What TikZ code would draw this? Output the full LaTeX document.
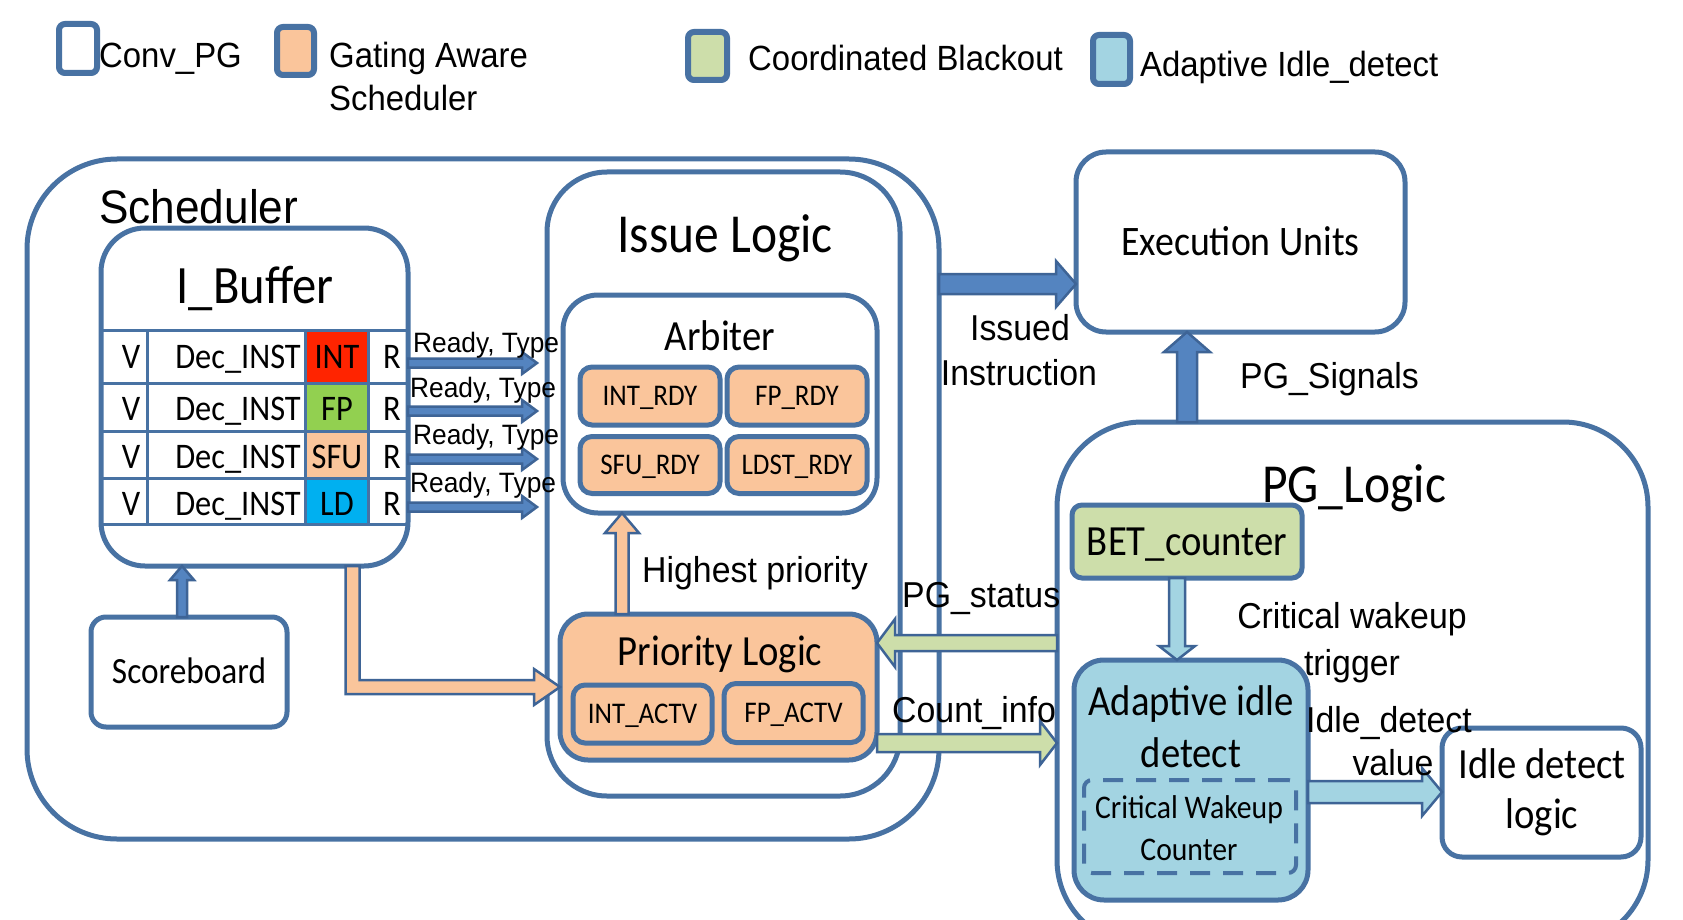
\documentclass[tikz,border=0pt]{standalone}
\usepackage{fontspec}
\newfontfamily\calf[FakeStretch=0.9]{Carlito}
\newfontfamily\arif[FakeStretch=0.94]{Liberation Sans}
\usetikzlibrary{calc}
\definecolor{bord}{RGB}{72,114,163}
\definecolor{abord}{RGB}{62,100,150}
\definecolor{bluef}{RGB}{84,132,192}
\definecolor{peach}{RGB}{250,197,155}
\definecolor{greenf}{RGB}{205,222,170}
\definecolor{lblue}{RGB}{163,212,226}
\definecolor{intred}{RGB}{255,36,0}
\definecolor{fpgreen}{RGB}{146,208,80}
\definecolor{ldblue}{RGB}{0,176,240}
\begin{document}
\begin{tikzpicture}[x=1pt,y=-1pt,
  bx/.style={draw=bord, line width=5pt, rounded corners=#1, inner sep=0pt, outer sep=0pt},
  bx/.default=12pt,
  cf/.style 2 args={font=\calf\fontsize{#1}{#2}\selectfont, inner sep=0pt},
  af/.style 2 args={font=\arif\fontsize{#1}{#2}\selectfont, inner sep=0pt},
  ctext/.style={text height=#1, text depth=0pt},
  cellfill/.style={inner sep=0pt, outer sep=0pt, draw=none},
  tbl/.style={draw=bord, line width=3pt},
  blk/.style={draw=abord, line width=2.5pt, fill=#1, line join=miter},
  barR/.style n args={3}{to path={let \p1=(\tikztostart), \p2=(\tikztotarget) in
    ({\x1},{\y1+#1}) -- ({\x2-#3},{\y1+#1}) -- ({\x2-#3},{\y1+#2}) -- (\x2,\y1) -- ({\x2-#3},{\y1-#2}) -- ({\x2-#3},{\y1-#1}) -- ({\x1},{\y1-#1}) -- cycle}},
  barL/.style n args={3}{to path={let \p1=(\tikztostart), \p2=(\tikztotarget) in
    ({\x1},{\y1+#1}) -- ({\x2+#3},{\y1+#1}) -- ({\x2+#3},{\y1+#2}) -- (\x2,\y1) -- ({\x2+#3},{\y1-#2}) -- ({\x2+#3},{\y1-#1}) -- ({\x1},{\y1-#1}) -- cycle}},
  barU/.style n args={3}{to path={let \p1=(\tikztostart), \p2=(\tikztotarget) in
    ({\x1+#1},{\y1}) -- ({\x1+#1},{\y2-#3}) -- ({\x1+#2},{\y2-#3}) -- (\x1,\y2) -- ({\x1-#2},{\y2-#3}) -- ({\x1-#1},{\y2-#3}) -- ({\x1-#1},{\y1}) -- cycle}},
  barD/.style n args={3}{to path={let \p1=(\tikztostart), \p2=(\tikztotarget) in
    ({\x1+#1},{\y1}) -- ({\x1+#1},{\y2+#3}) -- ({\x1+#2},{\y2+#3}) -- (\x1,\y2) -- ({\x1-#2},{\y2+#3}) -- ({\x1-#1},{\y2+#3}) -- ({\x1-#1},{\y1}) -- cycle}}
]
\useasboundingbox[fill=white] (0,0) rectangle (1683,920);

% ---------- legend ----------
\node[bx=6pt, line width=6pt, minimum width=38pt, minimum height=49pt] (lconv) at (78,48.5) {};
\node[af={35}{42}, anchor=base west] (tconv) at (99,68) {Conv\_PG};
\node[bx=6pt, line width=6pt, fill=peach, minimum width=37pt, minimum height=48pt] (lgas) at (295.5,51) {};
\node[af={35}{42}, anchor=base west] (tgas1) at (329,68) {Gating Aware};
\node[af={35}{42}, anchor=base west] (tgas2) at (329,111) {Scheduler};
\node[bx=6pt, line width=6pt, fill=greenf, minimum width=39pt, minimum height=48pt] (lcb) at (707.5,56) {};
\node[af={35}{42}, anchor=base west] (tcb) at (748,71) {Coordinated Blackout};
\node[bx=6pt, line width=6pt, fill=lblue, minimum width=37pt, minimum height=49pt] (laid) at (1111.5,59.5) {};
\node[af={35}{42}, anchor=base west] (taid) at (1140,77) {Adaptive Idle\_detect};

% ---------- containers ----------
\node[bx=90pt, minimum width=912pt, minimum height=680pt] (sched) at (483,499) {};
\node[af={47}{56}, anchor=base west] (tsched) at (99,223) {Scheduler};
\node[bx=60pt, minimum width=353pt, minimum height=624pt] (issue) at (723.5,484) {};
\node[cf={55}{62}, anchor=base] (tissue) at (725,252) {Issue Logic};

% I_Buffer
\node[bx=44pt, minimum width=307pt, minimum height=338pt] (ibuf) at (254.5,397) {};
\node[cf={54}{60}, anchor=base] (tibuf) at (255,303) {I\_Buffer};
\node[cellfill, fill=intred, minimum width=62pt, minimum height=50pt] (cint) at (336.5,356.5) {};
\node[cellfill, fill=fpgreen, minimum width=62pt, minimum height=48pt] (cfp) at (336.5,407) {};
\node[cellfill, fill=peach, minimum width=62pt, minimum height=47pt] (csfu) at (336.5,454.5) {};
\node[cellfill, fill=ldblue, minimum width=62pt, minimum height=46pt] (cld) at (336.5,501) {};
\draw[tbl] (101,330) -- (408,330);
\draw[tbl] (101,383) -- (408,383);
\draw[tbl] (101,431) -- (408,431);
\draw[tbl] (101,478) -- (408,478);
\draw[tbl] (101,524) -- (408,524);
\draw[tbl] (147,330) -- (147,524);
\draw[tbl] (305,330) -- (305,524);
\draw[tbl] (368,330) -- (368,524);
\foreach \r/\yb/\lab in {1/368/INT,2/420/FP,3/468/SFU,4/515/LD}{
  \node[cf={36}{42}, anchor=base] (v\r) at (131,\yb) {V};
  \node[cf={36}{42}, anchor=base] (d\r) at (238,\yb) {Dec\_INST};
  \node[cf={36}{42}, anchor=base] (t\r) at (337,\yb) {\lab};
  \node[cf={36}{42}, anchor=base] (r\r) at (392,\yb) {R};
}

% Arbiter
\node[bx=35pt, minimum width=314pt, minimum height=218pt] (arb) at (720,404) {};
\node[cf={43}{50}, anchor=base] (tarb) at (720,350) {Arbiter};
\node[bx=12pt, fill=peach, minimum width=140pt, minimum height=58pt, cf={30}{36}, ctext=19.3pt] (intrdy) at (650,396) {INT\_RDY};
\node[bx=12pt, fill=peach, minimum width=140pt, minimum height=58pt, cf={30}{36}, ctext=19.3pt] (fprdy) at (797,396) {FP\_RDY};
\node[bx=12pt, fill=peach, minimum width=140pt, minimum height=57pt, cf={30}{36}, ctext=19.3pt] (sfurdy) at (650,465) {SFU\_RDY};
\node[bx=12pt, fill=peach, minimum width=140pt, minimum height=57pt, cf={30}{36}, ctext=19.3pt] (ldstrdy) at (797,465) {LDST\_RDY};

% Priority logic
\node[bx=28pt, fill=peach, minimum width=317pt, minimum height=146pt] (prio) at (718.5,687) {};
\node[cf={43}{50}, anchor=base] (tprio) at (720,665) {Priority Logic};
\node[bx=12pt, fill=peach, minimum width=139pt, minimum height=58pt, cf={30}{36}, ctext=19.3pt] (intactv) at (642.5,714) {INT\_ACTV};
\node[bx=12pt, fill=peach, minimum width=139pt, minimum height=59pt, cf={30}{36}, ctext=19.3pt] (fpactv) at (793.5,713) {FP\_ACTV};

% Scoreboard
\node[bx=15pt, minimum width=196pt, minimum height=110pt, cf={37}{44}, ctext=23.8pt] (score) at (189,672) {Scoreboard};

% Execution units
\node[bx=30pt, minimum width=329pt, minimum height=180pt, cf={42}{50}, ctext=27pt] (exec) at (1240.5,242) {Execution Units};

% PG logic
\node[bx=85pt, minimum width=591pt, minimum height=523pt] (pgl) at (1352.5,683.5) {};
\node[cf={55}{62}, anchor=base] (tpgl) at (1354,502) {PG\_Logic};
\node[bx=10pt, fill=greenf, minimum width=230pt, minimum height=73pt, cf={43}{50}, ctext=27.7pt] (bet) at (1187,541.5) {BET\_counter};
\node[bx=30pt, fill=lblue, minimum width=234pt, minimum height=240pt] (adapt) at (1191,780) {};
\node[cf={43}{50}, anchor=base] (tad1) at (1191,715) {Adaptive idle};
\node[cf={43}{50}, anchor=base] (tad2) at (1191,767) {detect};
\node[bx=8pt, line width=4pt, dash pattern=on 20pt off 13pt, minimum width=212pt, minimum height=93pt] (cwc) at (1190,826.5) {};
\node[cf={33}{40}, anchor=base] (tcw1) at (1189,818) {Critical Wakeup};
\node[cf={33}{40}, anchor=base] (tcw2) at (1189,860) {Counter};
\node[bx=20pt, minimum width=199pt, minimum height=129pt] (idle) at (1541.5,792.5) {};
\node[cf={43}{50}, anchor=base] (tid1) at (1542,778) {Idle detect};
\node[cf={43}{50}, anchor=base] (tid2) at (1542,828) {logic};

% ---------- connector end points ----------
\coordinate (ra1) at (537,363);
\coordinate (ra2) at (537,411);
\coordinate (ra3) at (537,459);
\coordinate (ra4) at (537,507);
\coordinate (isT) at ([yshift=-42pt]exec.west);
\coordinate (pgsT) at ([xshift=-53.5pt]exec.south);
\coordinate (psT) at ([yshift=44pt]prio.east);
\coordinate (ciS) at ([yshift=-56pt]prio.east);
\coordinate (baS) at ([xshift=-10pt]bet.south);
\coordinate (aiS) at ([yshift=-12pt]adapt.east);
\coordinate (scS) at ([xshift=-7pt]score.north);
\coordinate (hpS) at ([xshift=-96.5pt]prio.north);

% ---------- arrows ----------
\foreach \i in {1,2,3,4}{
  \draw[blk=bluef, barR={4.5pt}{11pt}{15pt}] (ibuf.east |- ra\i) to (ra\i);
}
\draw[blk=bluef, barU={5pt}{12pt}{14pt}] (scS) to (scS |- ibuf.south);
\draw[blk=peach] let \p1=([xshift=98pt]ibuf.south), \p2=(prio.west) in
  ({\x1-7pt},{\y1}) -- ({\x1-7pt},{\y2-7pt}) -- ({\x2-26pt},{\y2-7pt}) -- ({\x2-26pt},{\y2-18pt}) -- (\x2,\y2)
  -- ({\x2-26pt},{\y2+18pt}) -- ({\x2-26pt},{\y2+7pt}) -- ({\x1+7pt},{\y2+7pt}) -- ({\x1+7pt},{\y1}) -- cycle;
\draw[blk=peach, barU={6.5pt}{17pt}{20pt}] (hpS) to (hpS |- arb.south);
\draw[blk=bluef, barR={10pt}{23pt}{20pt}] (sched.east |- isT) to (isT);
\draw[blk=bluef, barU={10pt}{23pt}{20pt}] (pgsT |- pgl.north) to (pgsT);
\draw[blk=greenf, barL={8pt}{24pt}{18pt}] (pgl.west |- psT) to (psT);
\draw[blk=greenf, barR={9pt}{22pt}{17pt}] (ciS) to (ciS -| pgl.west);
\draw[blk=lblue, barD={8pt}{18pt}{14pt}] (baS) to (baS |- adapt.north);
\draw[blk=lblue, barR={11pt}{24pt}{20pt}] (aiS) to (aiS -| idle.west);

% ---------- labels ----------
\node[af={28}{34}, anchor=base west] (lr1) at (413,352) {Ready, Type};
\node[af={28}{34}, anchor=base west] (lr2) at (410,397) {Ready, Type};
\node[af={28}{34}, anchor=base west] (lr3) at (413,444) {Ready, Type};
\node[af={28}{34}, anchor=base west] (lr4) at (410,492) {Ready, Type};
\node[af={36}{44}, anchor=base] (liss1) at (1020,340) {Issued};
\node[af={36}{44}, anchor=base] (liss2) at (1019,385) {Instruction};
\node[af={36}{44}, anchor=base west] (lpgs) at (1240,388) {PG\_Signals};
\node[af={36}{44}, anchor=base west] (lhp) at (642,582) {Highest priority};
\node[af={36}{44}, anchor=base west] (lpst) at (902,607) {PG\_status};
\node[af={36}{44}, anchor=base west] (lci) at (892,722) {Count\_info};
\node[af={36}{44}, anchor=base] (lcw1) at (1352,628) {Critical wakeup};
\node[af={36}{44}, anchor=base] (lcw2) at (1352,675) {trigger};
\node[af={36}{44}, anchor=base] (lidv1) at (1389,732) {Idle\_detect};
\node[af={36}{44}, anchor=base] (lidv2) at (1393,775) {value};
\end{tikzpicture}
\end{document}
